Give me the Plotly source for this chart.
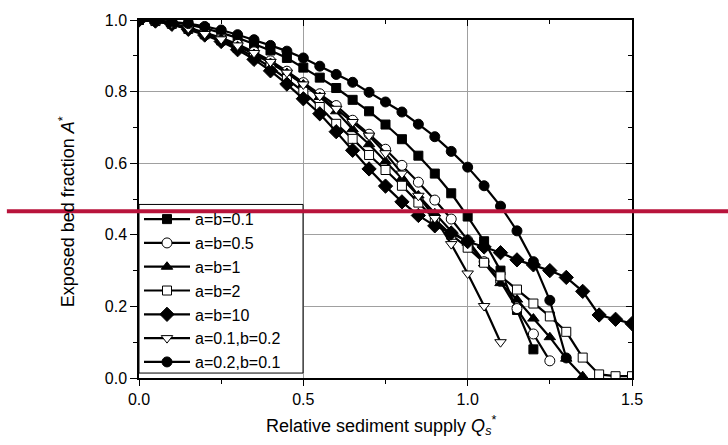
import plotly.graph_objects as go

# x values: relative sediment supply, step 0.05
x_all = [round(0.05 * i, 2) for i in range(31)]

labels = ["a=b=0.1", "a=b=0.5", "a=b=1", "a=b=2", "a=b=10", "a=0.1,b=0.2", "a=0.2,b=0.1"]

y_ab01 = [1.0, 0.998, 0.994, 0.987, 0.977, 0.964, 0.95, 0.933, 0.915, 0.894, 0.867, 0.839, 0.81,
          0.777, 0.745, 0.708, 0.667, 0.621, 0.571, 0.516, 0.451, 0.382, 0.30, 0.19, 0.08]
y_ab05 = [1.0, 0.998, 0.99, 0.979, 0.965, 0.95, 0.932, 0.911, 0.886, 0.857, 0.825, 0.794, 0.761,
          0.72, 0.681, 0.639, 0.594, 0.547, 0.497, 0.444, 0.385, 0.325, 0.27, 0.194, 0.123, 0.048]
y_ab1 = [1.0, 0.997, 0.988, 0.976, 0.962, 0.946, 0.927, 0.905, 0.88, 0.852, 0.82, 0.785, 0.745,
         0.695, 0.653, 0.605, 0.558, 0.51, 0.46, 0.41, 0.378, 0.32, 0.265, 0.219, 0.166, 0.114,
         0.054, 0.005]
y_ab2 = [1.0, 0.997, 0.989, 0.975, 0.96, 0.943, 0.922, 0.897, 0.868, 0.835, 0.8, 0.757, 0.71,
         0.668, 0.623, 0.581, 0.537, 0.49, 0.443, 0.40, 0.364, 0.322, 0.284, 0.247, 0.208, 0.172,
         0.129, 0.057, 0.01, 0.005, 0.005]
y_ab10 = [1.0, 0.997, 0.988, 0.974, 0.958, 0.94, 0.917, 0.89, 0.858, 0.821, 0.78, 0.738, 0.688,
          0.636, 0.584, 0.536, 0.492, 0.454, 0.425, 0.405, 0.381, 0.366, 0.35, 0.33, 0.316, 0.30,
          0.281, 0.242, 0.176, 0.164, 0.152]
y_a01b02 = [1.0, 0.998, 0.99, 0.977, 0.961, 0.946, 0.929, 0.908, 0.883, 0.853, 0.82, 0.788, 0.752,
            0.715, 0.677, 0.628, 0.571, 0.509, 0.447, 0.374, 0.292, 0.201, 0.10]
y_a02b01 = [1.0, 0.999, 0.995, 0.99, 0.982, 0.972, 0.959, 0.945, 0.929, 0.913, 0.894, 0.871, 0.848,
            0.826, 0.798, 0.771, 0.743, 0.709, 0.674, 0.633, 0.589, 0.537, 0.48, 0.411, 0.325,
            0.217, 0.056]

series = [y_ab01, y_ab05, y_ab1, y_ab2, y_ab10, y_a01b02, y_a02b01]
symbols = ["square", "circle", "triangle-up", "square", "diamond", "triangle-down", "circle"]
fills = ["black", "white", "black", "white", "black", "white", "black"]
sizes = [9, 10, 10, 9, 11, 10, 10]

x_ticks = [0.0, 0.5, 1.0, 1.5]
x_tick_text = ["0.0", "0.5", "1.0", "1.5"]
y_ticks = [0.0, 0.2, 0.4, 0.6, 0.8, 1.0]
y_tick_text = ["0.0", "0.2", "0.4", "0.6", "0.8", "1.0"]

x_title = "Relative sediment supply <i>Q</i><sub><i>s</i></sub><sup>*</sup>"
y_title = "Exposed bed fraction <i>A</i><sup>*</sup>"

fig = go.Figure()
for lab, ys, sym, fc, sz in zip(labels, series, symbols, fills, sizes):
    fig.add_trace(go.Scatter(
        x=x_all[:len(ys)], y=ys, name=lab, mode="lines+markers",
        line=dict(color="black", width=2.2),
        marker=dict(symbol=sym, size=sz, color=fc, line=dict(color="black", width=1)),
    ))
# empty trace so the mirrored (top/right) axes with inside ticks are drawn
fig.add_trace(go.Scatter(x=[], y=[], xaxis="x2", yaxis="y2", showlegend=False, hoverinfo="skip"))

font = "Liberation Sans, Arial, sans-serif"
fig.update_layout(
    width=728, height=445,
    margin=dict(l=139, r=96, t=15, b=67),
    paper_bgcolor="white", plot_bgcolor="white",
    font=dict(family=font, color="black", size=16),
    showlegend=True,
    legend=dict(x=0, y=0.491, xanchor="left", yanchor="top",
                bgcolor="rgba(0,0,0,0)", borderwidth=0,
                font=dict(size=16, family=font), itemwidth=46, tracegroupgap=0),
    xaxis=dict(range=[0, 1.5], tickvals=x_ticks, ticktext=x_tick_text,
               showgrid=True, gridcolor="#a0a0a0", gridwidth=1,
               showline=True, linecolor="black", linewidth=1.5, mirror=True,
               ticks="outside", ticklen=6, tickcolor="black",
               minor=dict(dtick=0.25, ticks="outside", ticklen=4, tickcolor="black", showgrid=False),
               zeroline=False, tickfont=dict(size=16)),
    yaxis=dict(range=[0, 1.0], tickvals=y_ticks, ticktext=y_tick_text,
               showgrid=True, gridcolor="#a0a0a0", gridwidth=1,
               showline=True, linecolor="black", linewidth=1.5, mirror=True,
               ticks="outside", ticklen=7, tickcolor="black",
               minor=dict(dtick=0.1, ticks="outside", ticklen=4, tickcolor="black", showgrid=False),
               zeroline=False, tickfont=dict(size=16)),
    xaxis2=dict(range=[0, 1.5], overlaying="x", side="top", anchor="y2",
                tickvals=x_ticks, showticklabels=False, showgrid=False, zeroline=False,
                ticks="inside", ticklen=6, tickcolor="black",
                minor=dict(dtick=0.25, ticks="inside", ticklen=4, tickcolor="black", showgrid=False)),
    yaxis2=dict(range=[0, 1.0], overlaying="y", side="right", anchor="x2",
                tickvals=y_ticks, showticklabels=False, showgrid=False, zeroline=False,
                ticks="inside", ticklen=6, tickcolor="black",
                minor=dict(dtick=0.1, ticks="inside", ticklen=4, tickcolor="black", showgrid=False)),
)

# axis titles as annotations (positioned as in the reference)
fig.add_annotation(text=x_title, xref="paper", yref="paper", x=0.49, y=-0.132,
                   xanchor="center", yanchor="middle", showarrow=False,
                   font=dict(size=18, family=font, color="black"))
fig.add_annotation(text=y_title, xref="paper", yref="paper", x=-0.146, y=0.463,
                   xanchor="center", yanchor="middle", showarrow=False, textangle=-90,
                   font=dict(size=18, family=font, color="black"))

# legend frame (white box with black border, covering the curves beneath)
fig.add_shape(type="rect", xref="paper", yref="paper",
              x0=0.0, x1=0.3327, y0=0.0138, y1=0.4848,
              fillcolor="white", line=dict(color="black", width=1), layer="above")

# red horizontal line across the figure
fig.add_shape(type="line", xref="paper", yref="paper",
              x0=-0.268, x1=1.2, y0=0.4656, y1=0.4656,
              line=dict(color="#B8133B", width=4), layer="above")

fig.write_html("out.html")
